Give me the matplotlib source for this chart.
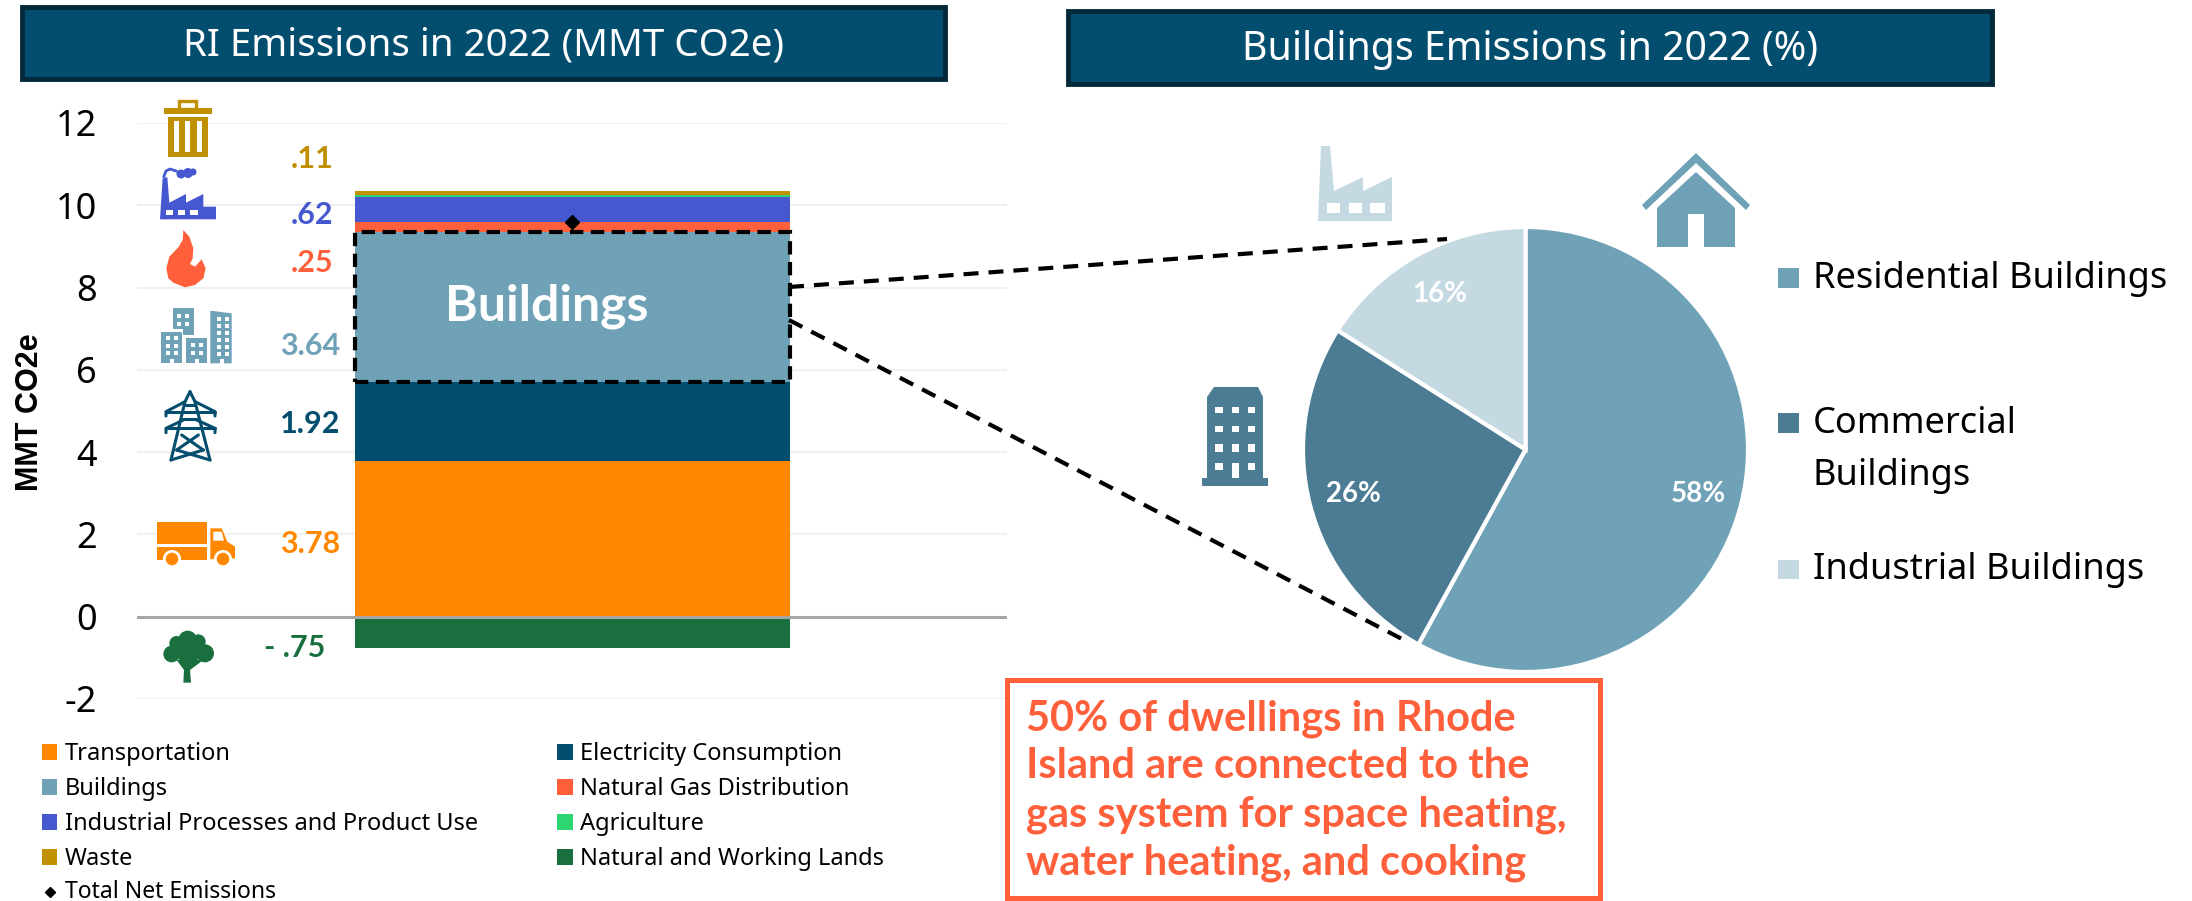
import matplotlib
matplotlib.use('Agg')
import matplotlib.pyplot as plt
from matplotlib.patches import Rectangle, Circle, Polygon

plt.rcParams['font.family'] = ['Noto Sans', 'DejaVu Sans']
plt.rcParams['axes.unicode_minus'] = False

W, H = 2192, 901
BOLD = ['Lato', 'Roboto', 'Liberation Sans']

# data
sectors = ['Transportation', 'Electricity Consumption', 'Buildings', 'Natural Gas Distribution',
           'Industrial Processes and Product Use', 'Agriculture', 'Waste']
sector_values = [3.78, 1.92, 3.64, 0.25, 0.62, 0.03, 0.11]
sector_colors = ['#FF8800', '#034E6E', '#6FA1B7', '#FF5F3A', '#4658D0', '#2ED573', '#C09000']
lands_label = 'Natural and Working Lands'
lands_value = -0.75
lands_color = '#19703E'
net_label = 'Total Net Emissions'
net_value = 9.6
y_ticks = [-2, 0, 2, 4, 6, 8, 10, 12]

value_text = ['.11', '.62', '.25', '3.64', '1.92', '3.78', '- .75']
value_colors = ['#C09000', '#4658D0', '#FF5F3A', '#6FA1B7', '#034E6E', '#FF8800', '#19703E']
value_x = [291, 291, 291, 280, 280, 280, 264]
value_y = [168, 224, 272, 355, 433, 553, 657]

pie_labels = ['Residential Buildings', 'Commercial\nBuildings', 'Industrial Buildings']
pie_values = [58, 26, 16]
pie_colors = ['#6FA1B7', '#4B7C93', '#C5D9E3']

callout = ['50% of dwellings in Rhode', 'Island are connected to the',
           'gas system for space heating,', 'water heating, and cooking']


def px_axes(x0, y0, x1, y1, **kw):
    return fig.add_axes([x0 / W, 1 - y1 / H, (x1 - x0) / W, (y1 - y0) / H], **kw)


fig = plt.figure(figsize=(W / 100, H / 100), dpi=100, facecolor='white')

# stacked bar
ax = px_axes(137, 123, 1007, 699)
ax.set_xlim(0, 1)
ax.set_ylim(-2, 12)
bottom = 0
for v, c in zip(sector_values, sector_colors):
    ax.bar(0.5, v, 0.5, bottom=bottom, color=c, zorder=2)
    bottom += v
ax.bar(0.5, lands_value, 0.5, color=lands_color, zorder=2)
ax.plot([0.5], [net_value], marker='D', color='black', ms=7, zorder=4)
bld_bottom = sum(sector_values[:2])
ax.add_patch(Rectangle((0.25, bld_bottom), 0.5, sector_values[2], fill=False, ec='black',
                       lw=3, ls=(0, (3.2, 1.8)), zorder=5))
ax.text(0.471, bld_bottom + sector_values[2] / 2 + 0.02, 'Buildings', color='white', fontsize=36,
        fontweight='bold', family=BOLD, ha='center', va='center', zorder=6)
ax.set_yticks(y_ticks)
ax.set_xticks([])
ax.tick_params(axis='y', length=0, pad=29, labelsize=26)
ax.grid(axis='y', color='#F0F0F0', lw=1.6, zorder=0)
ax.axhline(0, color='#A6A6A6', lw=2.2, zorder=3)
for s in ax.spines.values():
    s.set_visible(False)
ax.patch.set_alpha(0)

# pie
pax = px_axes(1303, 227, 1748, 672)
pax.pie(pie_values, colors=pie_colors, startangle=90, counterclock=False, radius=1,
        wedgeprops={'edgecolor': 'white', 'linewidth': 3}, autopct='%.0f%%', pctdistance=0.8,
        textprops={'color': 'white', 'fontsize': 20, 'fontweight': 'bold', 'family': BOLD})
pax.set_xlim(-1, 1)
pax.set_ylim(-1, 1)

# overlay in pixels for titles, icons, legends and notes
ov = fig.add_axes([0, 0, 1, 1], zorder=10)
ov.set_xlim(0, W)
ov.set_ylim(H, 0)
ov.axis('off')
ov.patch.set_alpha(0)

# title boxes
for (x0, y0, x1, y1), t, fs in [((22, 7, 945, 79), 'RI Emissions in 2022 (MMT CO2e)', 27.7),
                                ((1068, 11, 1992, 84), 'Buildings Emissions in 2022 (%)', 28.3)]:
    ov.add_patch(Rectangle((x0, y0), x1 - x0, y1 - y0, fc='#034E6E', ec='#02283A', lw=3.5))
    ov.text((x0 + x1) / 2, (y0 + y1) / 2 + 2, t, color='white', fontsize=fs, ha='center', va='center')

ov.text(30, 412, 'MMT CO2e', rotation=90, ha='center', va='center', fontsize=22,
        fontweight='bold', family='Liberation Sans')

for t, c, x, y in zip(value_text, value_colors, value_x, value_y):
    ov.text(x, y, t, color=c, fontsize=22, fontweight='bold', family=BOLD, ha='left', va='baseline')

# connectors
ov.plot([789, 1447], [287, 239], color='black', lw=3, ls=(0, (3.6, 2.4)))
ov.plot([789, 1402], [320, 639], color='black', lw=3, ls=(0, (3.6, 2.4)))

# left legend
col1 = [sectors[0], sectors[2], sectors[4], sectors[6]]
col1_c = [sector_colors[0], sector_colors[2], sector_colors[4], sector_colors[6]]
col2 = [sectors[1], sectors[3], sectors[5], lands_label]
col2_c = [sector_colors[1], sector_colors[3], sector_colors[5], lands_color]
for i, (a, ca, b, cb) in enumerate(zip(col1, col1_c, col2, col2_c)):
    yb = 760 + 35 * i
    ov.add_patch(Rectangle((42, yb - 16), 15, 16, fc=ca, ec='none'))
    ov.text(65, yb, a, fontsize=17, va='baseline')
    ov.add_patch(Rectangle((557, yb - 16), 16, 16, fc=cb, ec='none'))
    ov.text(580, yb, b, fontsize=17, va='baseline')
ov.plot([50], [892], marker='D', color='black', ms=5.5)
ov.text(65, 898, net_label, fontsize=16.5, va='baseline')

# right legend
for (y, yb, lab, c) in zip([268, 413, 560], [288, 433, 579], pie_labels, pie_colors):
    ov.add_patch(Rectangle((1778, y), 21, yb - y, fc=c, ec='none'))
    for k, part in enumerate(lab.split('\n')):
        ov.text(1813, yb + 52 * k, part, fontsize=26, va='baseline')

# note
ov.add_patch(Rectangle((1007, 680), 593, 218, fc='white', ec='#FF5F3A', lw=3.6))
for line, yb in zip(callout, [731, 778, 827, 875]):
    ov.text(1026, yb, line, color='#FF5F3A', fontsize=30, fontweight='bold', family=BOLD, va='baseline')


# icons
def rect(x0, y0, x1, y1, c):
    ov.add_patch(Rectangle((x0, y0), x1 - x0, y1 - y0, fc=c, ec='none'))


def poly(pts, c):
    ov.add_patch(Polygon(pts, closed=True, fc=c, ec='none'))


def circ(x, y, r, c):
    ov.add_patch(Circle((x, y), r, fc=c, ec='none'))


def z(bx, by, pts):
    return [(bx + p[0] / 3, by + p[1] / 3) for p in pts]


# waste bin
c = '#C09000'
ov.add_patch(Rectangle((179, 101), 17, 8, fc='none', ec=c, lw=2.4))
rect(164, 108, 212, 114, c)
rect(168, 117, 208, 157, c)
for x in (174, 185, 197):
    rect(x, 121, x + 5, 152, 'white')

# factory
c = '#4658D0'
poly(z(140, 90, [(68, 262), (82, 262), (88, 338), (138, 312), (138, 338), (190, 312), (190, 350),
                 (228, 350), (228, 388), (60, 388)]), c)
for x in (77, 114, 151):
    rect(140 + x / 3, 210, 140 + (x + 22) / 3, 215, 'white')
circ(181, 174, 4.5, c)
circ(188, 173, 5, c)
circ(193, 172, 3.5, c)
ov.plot([164, 166, 170, 176], [176, 171, 169, 171], color=c, lw=2)

# flame
poly(z(140, 90, [(130, 420), (148, 440), (160, 475), (158, 505), (150, 522), (165, 530), (185, 508),
                 (197, 535), (190, 565), (165, 585), (135, 592), (120, 586), (100, 578),
                 (85, 565), (79, 535), (88, 500), (115, 472), (128, 450)]), '#FF5F3A')

# city block
c = '#6FA1B7'
poly(z(140, 290, [(100, 55), (163, 55), (163, 135), (130, 135), (130, 118), (100, 118)]), c)
rect(161, 332, 182, 363, c)
rect(186, 338, 207, 363, c)
poly(z(140, 290, [(211, 62), (275, 70), (275, 220), (211, 220)]), c)
for (x0, y0, nx, ny, dy) in [(177, 314, 2, 2, 7.5), (166, 336, 2, 3, 7.5), (191, 343, 2, 2, 7.5), (217, 317, 2, 6, 7)]:
    for i in range(nx):
        for j in range(ny):
            rect(x0 + i * 8, y0 + j * dy, x0 + i * 8 + 4, y0 + j * dy + 4, 'white')
for x in (171, 196, 221):
    rect(x - 1.5, 359, x + 2.5, 364, 'white')

# pylon
c = '#034E6E'
for seg in [[(150, 305), (135, 335), (93, 510)], [(150, 305), (165, 335), (210, 510)],
            [(78, 378), (78, 365), (135, 335)], [(225, 378), (225, 365), (165, 335)], [(78, 365), (225, 365)],
            [(78, 428), (78, 415), (130, 390)], [(225, 428), (225, 415), (170, 390)], [(78, 415), (225, 415)],
            [(135, 345), (165, 345)], [(128, 388), (172, 388)],
            [(125, 435), (190, 480)], [(175, 435), (110, 480)], [(93, 510), (190, 480)], [(210, 510), (110, 480)]]:
    p = z(140, 290, seg)
    ov.plot([q[0] for q in p], [q[1] for q in p], color=c, lw=2.2, solid_capstyle='round')

# truck
c = '#FF8800'
rect(157, 522, 207, 544, c)
rect(157, 547, 207, 560, c)
poly(z(140, 500, [(211, 85), (245, 85), (262, 125), (285, 140), (285, 175), (211, 178)]), c)
poly(z(140, 500, [(220, 95), (245, 95), (252, 122), (220, 122)]), 'white')
for x in (172, 223):
    circ(x, 559, 9, 'white')
    circ(x, 559, 6.3, c)

# tree
c = '#19703E'
for x, y, r in [(143, 420, 28), (110, 430, 22), (175, 425, 22), (95, 462, 25), (195, 460, 27), (145, 450, 40)]:
    circ(140 + x / 3, 500 + y / 3, r / 3, c)
poly(z(140, 500, [(130, 548), (153, 548), (150, 510), (190, 480), (110, 480), (132, 510)]), c)

# pie icons
c = '#6FA1B7'
poly([(1696, 153), (1750, 205), (1746, 210), (1696, 163), (1646, 210), (1642, 205)], c)
poly([(1696, 172), (1735, 208), (1735, 247), (1704, 247), (1704, 214), (1688, 214), (1688, 247), (1657, 247), (1657, 208)], c)

c = '#C5D9E3'
poly([(1321, 146), (1330, 146), (1334, 191), (1363, 177), (1363, 191), (1392, 177), (1392, 221), (1318, 221)], c)
for x0, x1 in [(1327, 1340), (1349, 1362), (1370, 1385)]:
    rect(x0, 203, x1, 213, 'white')

c = '#4B7C93'
poly([(1214, 387), (1258, 387), (1263, 397), (1263, 478), (1268, 478), (1268, 486), (1202, 486), (1202, 478), (1207, 478), (1207, 397)], c)
for y0, y1 in [(407, 413), (426, 432), (444, 452), (463, 470)]:
    for x0, x1 in [(1215, 1223), (1232, 1239), (1248, 1255)]:
        rect(x0, y0, x1, y1, 'white')
rect(1232, 463, 1239, 478, 'white')

fig.savefig('out.png', dpi=100)
